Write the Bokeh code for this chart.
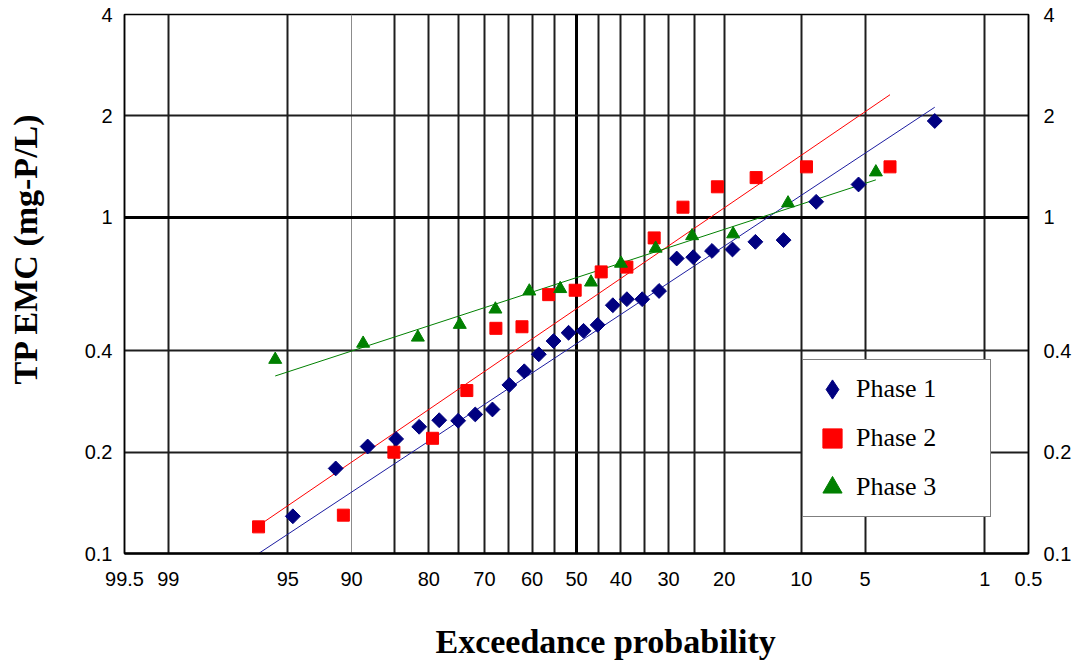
import math
from statistics import NormalDist
from bokeh.plotting import figure
from bokeh.models import Range1d, FixedTicker, LogAxis, LinearAxis, Grid, Legend, LegendItem, Title
from bokeh.embed import file_html
from bokeh.resources import INLINE

# ---------------- data (exceedance probability %, TP EMC mg-P/L) ----------------
phase1_prob = [94.7, 91.5, 88.3, 84.8, 81.5, 78.3, 75.0, 71.8, 68.4, 64.9, 61.7, 58.5, 55.2, 51.8,
               48.4, 45.2, 41.8, 38.7, 35.4, 31.9, 28.4, 25.3, 22.0, 18.7, 15.4, 11.9, 8.6, 5.4, 2.06]
phase1_tp = [0.129, 0.179, 0.208, 0.219, 0.238, 0.249, 0.248, 0.259, 0.268, 0.317, 0.348, 0.391, 0.428, 0.453,
             0.459, 0.478, 0.547, 0.570, 0.570, 0.603, 0.753, 0.760, 0.793, 0.801, 0.844, 0.854, 1.11, 1.25, 1.93]

phase2_prob = [96.5, 90.8, 85.1, 79.4, 73.4, 67.7, 62.2, 56.3, 50.3, 44.4, 38.7, 32.9, 27.2, 21.1, 15.3, 9.5, 3.7]
phase2_tp = [0.120, 0.130, 0.200, 0.220, 0.305, 0.467, 0.472, 0.588, 0.606, 0.687, 0.710, 0.867, 1.07, 1.23,
             1.31, 1.41, 1.41]

phase3_prob = [95.7, 88.8, 81.7, 74.7, 67.8, 60.6, 53.7, 46.7, 40.0, 32.6, 25.5, 18.6, 11.4, 4.4]
phase3_tp = [0.377, 0.421, 0.439, 0.479, 0.532, 0.602, 0.612, 0.640, 0.728, 0.807, 0.879, 0.890, 1.10, 1.36]

# fitted (lognormal) trend lines: end points
fit1_prob = [96.5, 2.06]
fit1_tp = [0.100, 2.12]
fit2_prob = [96.5, 3.7]
fit2_tp = [0.121, 2.31]
fit3_prob = [95.7, 4.4]
fit3_tp = [0.337, 1.29]

x_tick_probs = [99.5, 99, 95, 90, 80, 70, 60, 50, 40, 30, 20, 10, 5, 1, 0.5]
x_tick_labels = ["99.5", "99", "95", "90", "80", "70", "60", "50", "40", "30", "20", "10", "5", "1", "0.5"]
x_grid_probs = [99, 95, 85, 80, 75, 70, 65, 60, 55, 45, 40, 35, 30, 25, 20, 10, 5, 1]
x_grid_light = [90]
x_grid_bold = [50]

y_ticks = [0.1, 0.2, 0.4, 1.0, 2.0, 4.0]
y_tick_labels = ["0.1", "0.2", "0.4", "1", "2", "4"]
y_grid_vals = [0.2, 0.4, 2.0]
y_grid_bold = [1.0]

series_labels = ["Phase 1", "Phase 2", "Phase 3"]
x_title = "Exceedance probability"
y_title = "TP EMC (mg-P/L)"

# ---------------- helpers ----------------
nd = NormalDist()


def pz(pct):
    return nd.inv_cdf(1.0 - pct / 100.0)


def zs(lst):
    return [pz(v) for v in lst]


xmin, xmax = pz(x_tick_probs[0]), pz(x_tick_probs[-1])

p = figure(width=1078, height=669, x_range=Range1d(xmin, xmax), y_range=Range1d(0.1, 4.0),
           y_axis_type="log", output_backend="svg", toolbar_location=None,
           min_border_left=124, min_border_right=50, min_border_top=14, min_border_bottom=116,
           background_fill_color="white", border_fill_color="white",
           outline_line_color="black", outline_line_width=1.5)

p.xgrid.grid_line_color = None
p.ygrid.grid_line_color = None

# grids
for ticks, color, width, dim in [
    (zs(x_grid_probs), "#1e1e1e", 2, 0),
    (zs(x_grid_light), "#8c8c8c", 1, 0),
    (zs(x_grid_bold), "#000000", 3, 0),
    (y_grid_vals, "#1e1e1e", 2, 1),
    (y_grid_bold, "#000000", 3, 1),
]:
    g = Grid(dimension=dim, ticker=FixedTicker(ticks=ticks), grid_line_color=color, grid_line_width=width)
    p.add_layout(g)

tick_font = "Liberation Sans"

# x axis
xt = zs(x_tick_probs)
p.xaxis.ticker = FixedTicker(ticks=xt)
p.xaxis.major_label_overrides = {t: lab for t, lab in zip(xt, x_tick_labels)}

# left y axis
p.yaxis.ticker = FixedTicker(ticks=y_ticks)
p.yaxis.major_label_overrides = {float(t): lab for t, lab in zip(y_ticks, y_tick_labels)}

right_axis = LogAxis(ticker=FixedTicker(ticks=y_ticks),
                     major_label_overrides={float(t): lab for t, lab in zip(y_ticks, y_tick_labels)})
p.add_layout(right_axis, "right")

for ax in [p.xaxis[0], p.yaxis[0], right_axis]:
    ax.major_tick_out = 0
    ax.major_tick_in = 0
    ax.minor_tick_out = 0
    ax.minor_tick_in = 0
    ax.axis_line_color = "black"
    ax.axis_line_width = 1.5
    ax.major_label_text_font = tick_font
    ax.major_label_text_font_size = "20px"
    ax.major_label_text_color = "black"

p.xaxis[0].axis_line_width = 2.5
p.xaxis[0].major_label_standoff = 18
p.yaxis[0].major_label_standoff = 12
right_axis.major_label_standoff = 15

# invisible spacer axes (one undrawn tick, empty label) so that the axis titles sit further out
for side, gap, mid in [("below", 33, 0.0), ("left", 37, 1.0)]:
    sp = LinearAxis(ticker=FixedTicker(ticks=[mid]), major_label_overrides={mid: ""},
                    axis_line_color=None, major_tick_line_color=None, minor_tick_line_color=None,
                    major_tick_out=gap, major_tick_in=0, minor_tick_out=0, minor_tick_in=0,
                    major_label_standoff=0, major_label_text_font_size="1px")
    p.add_layout(sp, side)

title_style = dict(text_font="Liberation Serif", text_font_style="bold", text_font_size="34px",
                   text_color="black", standoff=0, vertical_align="middle", align="left")
p.add_layout(Title(text=x_title, offset=311, **title_style), "below")
p.add_layout(Title(text=y_title, offset=169, **title_style), "left")

# trend lines
p.line(zs(fit1_prob), fit1_tp, line_color="#1c1ca0", line_width=1)
p.line(zs(fit2_prob), fit2_tp, line_color="#ff0000", line_width=1)
p.line(zs(fit3_prob), fit3_tp, line_color="#008000", line_width=1)

# markers
r1 = p.scatter(zs(phase1_prob), phase1_tp, marker="square", angle=math.pi / 4, size=10.5,
               fill_color="#000080", line_color="#000080")
r2 = p.scatter(zs(phase2_prob), phase2_tp, marker="square", size=12,
               fill_color="#ff0000", line_color="#ff0000")
r3 = p.scatter(zs(phase3_prob), phase3_tp, marker="triangle", size=13,
               fill_color="#008000", line_color="#008000")

# legend-only glyph for the diamond (legend glyphs are drawn unrotated); NaN -> nothing drawn in the plot
r1_leg = p.scatter(x=[float("nan")], y=[float("nan")], marker="diamond",
                   fill_color="#000080", line_color="#000080")

legend = Legend(items=[LegendItem(label=series_labels[0], renderers=[r1_leg]),
                       LegendItem(label=series_labels[1], renderers=[r2]),
                       LegendItem(label=series_labels[2], renderers=[r3])],
                location=(678, 36), orientation="vertical",
                label_text_font="Liberation Serif", label_text_font_size="26px", label_text_color="black",
                border_line_color="black", border_line_width=1.5,
                background_fill_color="white", background_fill_alpha=1.0,
                padding=5, spacing=1, glyph_width=48, glyph_height=48, label_height=48,
                label_width=129, label_standoff=0, margin=0)
p.add_layout(legend)

open("out.html", "w").write(file_html(p, INLINE))
